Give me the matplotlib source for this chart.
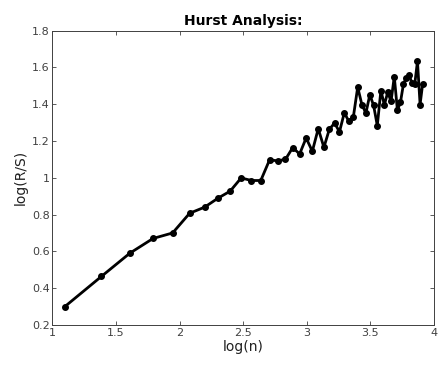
import matplotlib
matplotlib.use("Agg")
import matplotlib.pyplot as plt
import numpy as np

# window sizes n = 3..50 and the measured log(R/S)
n_vals = [3, 4, 5, 6, 7, 8, 9, 10, 11, 12, 13, 14, 15, 16, 17, 18, 19, 20,
          21, 22, 23, 24, 25, 26, 27, 28, 29, 30, 31, 32, 33, 34, 35, 36,
          37, 38, 39, 40, 41, 42, 43, 44, 45, 46, 47, 48, 49, 50]
log_rs = [0.30, 0.464, 0.59, 0.67, 0.70, 0.807, 0.84, 0.889, 0.927, 0.999,
          0.985, 0.985, 1.097, 1.092, 1.10, 1.164, 1.129, 1.216, 1.144, 1.267,
          1.165, 1.263, 1.297, 1.25, 1.353, 1.306, 1.332, 1.492, 1.398, 1.351,
          1.451, 1.393, 1.283, 1.474, 1.396, 1.465, 1.415, 1.55, 1.366, 1.411,
          1.51, 1.543, 1.556, 1.514, 1.51, 1.633, 1.398, 1.51]

log_n = np.log(n_vals)

fig = plt.figure(figsize=(4.4, 3.68), dpi=100)
ax = fig.add_axes([0.119, 0.117, 0.867, 0.8])
ax.plot(log_n, log_rs, color="black", linewidth=2, marker="o", markersize=4)

ax.set_xlim(1, 4)
ax.set_ylim(0.2, 1.8)
ax.set_xticks([1, 1.5, 2, 2.5, 3, 3.5, 4])
ax.set_xticklabels(["1", "1.5", "2", "2.5", "3", "3.5", "4"])
ax.set_yticks([0.2, 0.4, 0.6, 0.8, 1.0, 1.2, 1.4, 1.6, 1.8])
ax.set_yticklabels(["0.2", "0.4", "0.6", "0.8", "1", "1.2", "1.4", "1.6", "1.8"])
ax.tick_params(direction="in", top=True, right=True, length=3, width=0.6,
               labelsize=8, labelcolor="#404040", color="#404040", pad=2)
for s in ax.spines.values():
    s.set_color("#404040")
    s.set_linewidth(0.7)

ax.set_xlabel("log(n)", fontsize=10, color="#202020", labelpad=2)
ax.set_ylabel("log(R/S)", fontsize=10, color="#202020", labelpad=3)
ax.set_title("Hurst Analysis:", fontsize=10, fontweight="bold", pad=4)

fig.savefig("out.png", dpi=100)
